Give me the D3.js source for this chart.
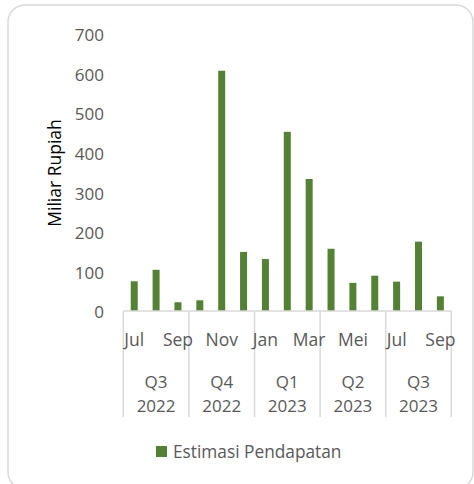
<!DOCTYPE html>
<html>
<head>
<meta charset="utf-8">
<script src="https://cdn.jsdelivr.net/npm/d3@7"></script>
<style>
  body { margin: 0; background: #fff; }
  svg { display: block; font-family: "Open Sans", "Noto Sans", sans-serif; }
</style>
</head>
<body>
<div id="container"></div>
<script>
// data
const months = ['Jul', 'Agu', 'Sep', 'Okt', 'Nov', 'Des', 'Jan', 'Feb', 'Mar', 'Apr', 'Mei', 'Jun', 'Jul', 'Agu', 'Sep'];
const values = [75, 104, 22, 27, 606, 149, 131, 452, 333, 157, 71, 89, 74, 175, 37];
const quarters = ['Q3', 'Q4', 'Q1', 'Q2', 'Q3'];
const years = ['2022', '2022', '2023', '2023', '2023'];
const yTicks = [0, 100, 200, 300, 400, 500, 600, 700];
const seriesName = 'Estimasi Pendapatan';

const green = '#548235';
const grey = '#595959';
const lineGrey = '#d9d9d9';

const svg = d3.select('#container')
    .append('svg')
        .attr('width', 474)
        .attr('height', 484);

// chart frame
svg.append('rect')
    .attr('x', 8)
    .attr('y', 5)
    .attr('width', 465)
    .attr('height', 484)
    .attr('rx', 17)
    .style('fill', '#fff')
    .style('stroke', lineGrey)
    .style('stroke-width', 1.5);

const xScale = d3.scaleBand()
    .domain(d3.range(months.length))
    .range([123.3, 451.3])
    .paddingInner(0.68)
    .paddingOuter(0.34);

const yScale = d3.scaleLinear().domain([0, 700]).range([311, 33.5]);

const yAxis = d3.axisLeft(yScale)
    .tickValues(yTicks)
    .tickSize(0)
    .tickPadding(0);

svg.append('g')
    .attr('transform', 'translate(' + 104 + ',' + 1.5 + ')')
    .call(yAxis)
    .call(g => g.select('.domain').remove())
    .call(g => g.selectAll('text')
        .style('font-size', '17px')
        .style('font-family', '"Open Sans", sans-serif')
        .style('fill', grey));

svg.append('text')
    .attr('transform', 'translate(' + 61 + ',' + 173 + ') rotate(-90)')
    .attr('text-anchor', 'middle')
    .style('font-size', '17.5px')
    .style('fill', '#000')
    .text('Miliar Rupiah');

// bars
svg.selectAll('.bar')
    .data(values)
    .enter()
    .append('rect')
        .attr('class', 'bar')
        .attr('x', (d, i) => xScale(i))
        .attr('y', (d) => yScale(d))
        .attr('width', xScale.bandwidth())
        .attr('height', (d) => yScale(0) - yScale(d))
        .style('fill', green);

// category axis: baseline + group separators
const step = xScale.step();
const x0 = xScale(0) - xScale.paddingOuter() * step;
const axisG = svg.append('g');

axisG.append('line')
    .attr('x1', x0)
    .attr('x2', x0 + step * months.length)
    .attr('y1', yScale(0))
    .attr('y2', yScale(0))
    .style('stroke', lineGrey)
    .style('stroke-width', 1.5);

d3.range(quarters.length + 1).forEach((q) => {
    const x = x0 + q * 3 * step;
    axisG.append('line')
        .attr('x1', x)
        .attr('x2', x)
        .attr('y1', yScale(0))
        .attr('y2', 417)
        .style('stroke', lineGrey)
        .style('stroke-width', 1.5);
});

// every other month label
months.forEach((m, i) => {
    if (i % 2) return;
    axisG.append('text')
        .attr('x', xScale(i) + xScale.bandwidth() / 2)
        .attr('y', 346)
        .attr('text-anchor', 'middle')
        .style('font-size', '17.5px')
        .style('fill', grey)
        .text(m);
});

quarters.forEach((q, i) => {
    const cx = x0 + (i * 3 + 1.5) * step;
    axisG.append('text')
        .attr('x', cx)
        .attr('y', 388)
        .attr('text-anchor', 'middle')
        .style('font-size', '17px')
        .style('fill', grey)
        .text(q);
    axisG.append('text')
        .attr('x', cx)
        .attr('y', 411.5)
        .attr('text-anchor', 'middle')
        .style('font-size', '17px')
        .style('fill', grey)
        .text(years[i]);
});

// legend
const legend = svg.append('g')
    .attr('transform', 'translate(' + 156 + ',' + 446 + ')');

legend.append('rect')
    .attr('width', 11)
    .attr('height', 11)
    .style('fill', green);

legend.append('text')
    .attr('x', 17)
    .attr('y', 12)
    .style('font-size', '17.3px')
    .style('fill', grey)
    .text(seriesName);
</script>
</body>
</html>
